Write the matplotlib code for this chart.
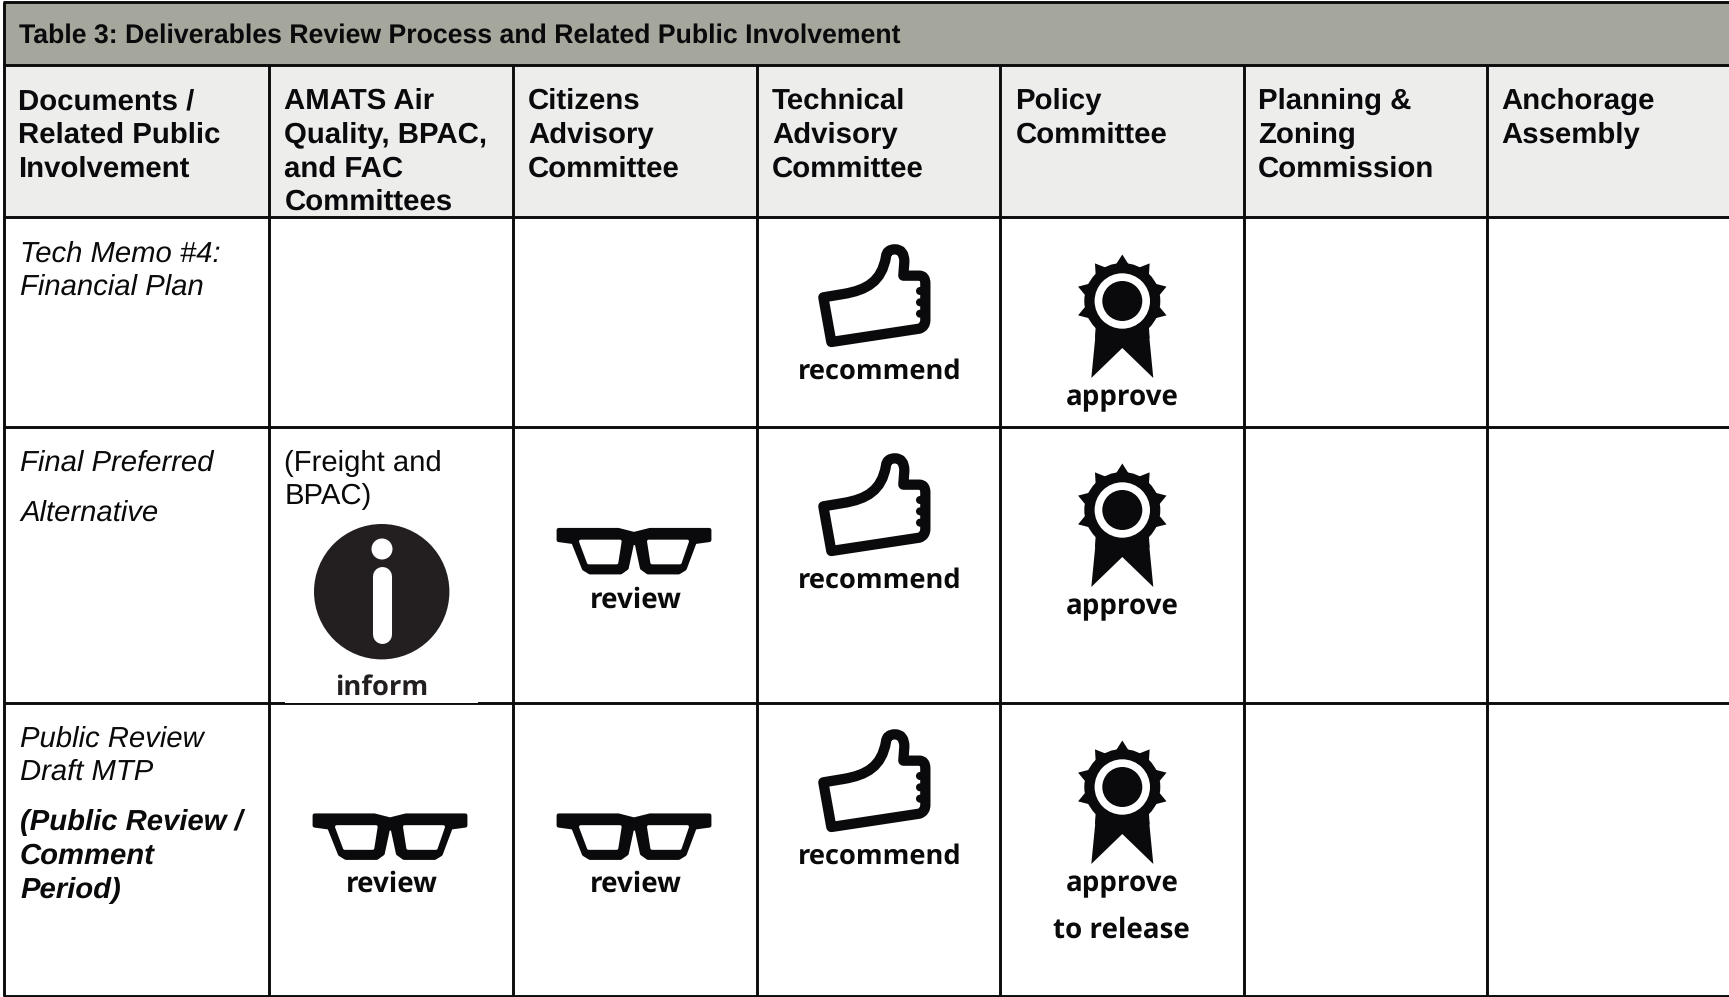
import matplotlib
matplotlib.use('Agg')
import matplotlib.pyplot as plt
import numpy as np
from matplotlib.patches import Rectangle, Circle, Polygon, PathPatch
from matplotlib.path import Path

plt.rcParams['font.family'] = ['Liberation Sans', 'DejaVu Sans']
plt.rcParams['text.hinting'] = 'no_hinting'

title = 'Table 3: Deliverables Review Process and Related Public Involvement'
headers = [
    ['Documents /', 'Related Public', 'Involvement'],
    ['AMATS Air', 'Quality, BPAC,', 'and FAC', 'Committees'],
    ['Citizens', 'Advisory', 'Committee'],
    ['Technical', 'Advisory', 'Committee'],
    ['Policy', 'Committee'],
    ['Planning &', 'Zoning', 'Commission'],
    ['Anchorage', 'Assembly'],
]

col_edges = [4, 269, 513.5, 757, 1000, 1244, 1487]
col_text_x = [18.5, 284.5, 528, 772, 1015.5, 1258, 1501]
row_edges = [2, 65, 217, 427, 703, 996]

header_baselines = [109, 143, 176.5, 210]
recommend_offset = [0, 209, 485]
approve_offset = [0, 209, 486]
# glasses: centre x, top y and label baseline of each one
review_pos = [(634.5, 528, 608), (390.5, 813.5, 891.5), (634.5, 813.5, 891.5)]

body_lines = [
    (20, 262, 'Tech Memo #4:', 'italic', 'normal'),
    (20, 294.5, 'Financial Plan', 'italic', 'normal'),
    (20, 470.5, 'Final Preferred', 'italic', 'normal'),
    (20, 520.5, 'Alternative', 'italic', 'normal'),
    (284.5, 470.5, '(Freight and', 'normal', 'normal'),
    (284.5, 504, 'BPAC)', 'normal', 'normal'),
    (20, 746.5, 'Public Review', 'italic', 'normal'),
    (20, 779.5, 'Draft MTP', 'italic', 'normal'),
    (20, 829.5, '(Public Review /', 'italic', 'bold'),
    (20, 863.5, 'Comment', 'italic', 'bold'),
    (20, 898, 'Period)', 'italic', 'bold'),
]

BLACK = '#0a0a0c'
LINE = '#0c0c0c'

fig = plt.figure(figsize=(17.29, 9.97), dpi=100)
ax = fig.add_axes([0, 0, 1, 1])
ax.set_xlim(0, 1729)
ax.set_ylim(997, 0)
ax.axis('off')


def label(x, y, s, size=20.0, color=BLACK):
    ax.text(x, y, s, ha='center', va='baseline', fontsize=size, color=color,
            family=['Open Sans', 'DejaVu Sans'], fontweight='bold', zorder=6)


def thumb(dy):
    # outline, 3x crop coordinates
    verts = [(214, 366), (190, 232), (250, 222),
             (320, 210), (365, 185), (378, 110),
             (380, 88), (405, 88),
             (433, 88), (433, 125),
             (430, 167),
             (478, 167), (496, 167), (496, 190),
             (496, 300), (496, 320), (478, 326),
             (214, 366), (214, 366)]
    codes = [Path.MOVETO, Path.LINETO, Path.LINETO,
             Path.CURVE4, Path.CURVE4, Path.CURVE4,
             Path.CURVE3, Path.CURVE3,
             Path.CURVE3, Path.CURVE3,
             Path.LINETO,
             Path.LINETO, Path.CURVE3, Path.CURVE3,
             Path.LINETO, Path.CURVE3, Path.CURVE3,
             Path.LINETO, Path.CLOSEPOLY]
    pts = [(760 + x / 3, 220 + y / 3 + dy) for x, y in verts]
    ax.add_patch(PathPatch(Path(pts, codes), fc='white', ec=BLACK, lw=7.4,
                           joinstyle='round', zorder=4))
    for ky in (213, 247, 281):
        ax.add_patch(Circle((760 + 480 / 3, 220 + ky / 3 + dy), 4.0, fc=BLACK, ec='none', zorder=4))
    label(880, 379 + dy, 'recommend', size=19.6)


def rosette(dy):
    cx, cy = 1122.3, 301 + dy
    ang = np.deg2rad(np.arange(10) * 36 + 18)
    for a in ang:
        tip = (cx + 46.5 * np.cos(a), cy - 46.5 * np.sin(a))
        b1 = (cx + 36 * np.cos(a + 0.2), cy - 36 * np.sin(a + 0.2))
        b2 = (cx + 36 * np.cos(a - 0.2), cy - 36 * np.sin(a - 0.2))
        ax.add_patch(Polygon([tip, b1, b2], fc=BLACK, ec='none', zorder=4))
    ax.add_patch(Circle((cx, cy), 38, fc=BLACK, ec='none', zorder=4))
    ax.add_patch(Circle((cx, cy), 27.7, fc='white', ec='none', zorder=4))
    ax.add_patch(Circle((cx, cy), 20, fc=BLACK, ec='none', zorder=4))
    ribbon = [(-26, 26), (-31, 77), (0, 47), (31, 77), (26, 26)]
    ax.add_patch(Polygon([(cx + x, cy + y) for x, y in ribbon], fc=BLACK, ec='none', zorder=3))
    label(1122.5, 405.5 + dy, 'approve')


def glasses(cx, top, base):
    cx = cx - 0.5
    outer = [(-226, 6), (-47, 6), (0, 18), (48, 6), (226, 6), (226, 36), (182, 42),
             (152, 122), (134, 133), (42, 133), (24, 120), (8, 45), (-6, 45), (-22, 120),
             (-40, 133), (-132, 133), (-150, 122), (-182, 42), (-226, 36)]
    lens_l = [(-160, 40), (-42, 40), (-52, 104), (-136, 104)]
    lens_r = [(44, 40), (160, 40), (138, 104), (54, 104)]
    for pts, col, z, w in [(outer, BLACK, 4, 3.0), (lens_l, 'white', 4.1, 2.4), (lens_r, 'white', 4.1, 2.4)]:
        ax.add_patch(Polygon([(cx + x / 3, top + y / 3) for x, y in pts], fc=col, ec=col, lw=w,
                             joinstyle='round', zorder=z))
    label(cx + 1.5, base, 'review')


# backgrounds
ax.add_patch(Rectangle((col_edges[0], row_edges[0]), 1729, row_edges[1] - row_edges[0], fc='#a5a79c', ec='none'))
ax.add_patch(Rectangle((col_edges[0], row_edges[1]), 1729, row_edges[2] - row_edges[1], fc='#ededec', ec='none'))

# grid lines
lw = 2.1
for y in row_edges:
    ax.plot([col_edges[0] - 1, 1729], [y, y], color=LINE, lw=lw, solid_capstyle='butt', zorder=1)
ax.plot([col_edges[0]] * 2, [row_edges[0], row_edges[-1]], color=LINE, lw=lw, solid_capstyle='butt', zorder=1)
for x in col_edges[1:]:
    ax.plot([x, x], [row_edges[1], row_edges[-1]], color=LINE, lw=lw, solid_capstyle='butt', zorder=1)

# texts
ax.text(col_text_x[0] + 1, 42.5, title, fontsize=19.2, fontweight='bold', va='baseline', color=BLACK)
for x, lines in zip(col_text_x, headers):
    for y, s in zip(header_baselines, lines):
        ax.text(x, y, s, fontsize=21.2, fontweight='bold', va='baseline', color=BLACK)
for x, y, s, style, weight in body_lines:
    ax.text(x, y, s, fontsize=21.1, style=style, fontweight=weight, va='baseline', color=BLACK)

# icons
for dy in recommend_offset:
    thumb(dy)
for dy in approve_offset:
    rosette(dy)
for cx, top, base in review_pos:
    glasses(cx, top, base)

label(1121.5, 937.5, 'to release')

# inform icon sits on a white patch that clips the row line
ax.add_patch(Rectangle((285, 522), 193, 180.5, fc='white', ec='none', zorder=2))
ax.add_patch(Circle((381.7, 591.7), 67.7, fc='#231f20', ec='none', zorder=4))
ax.plot([382, 382], [576, 634], color='white', lw=13.7, solid_capstyle='round', zorder=5)
ax.add_patch(Circle((382, 549), 10.5, fc='white', ec='none', zorder=5))
label(381.7, 694.5, 'inform', color='#231f20', size=19.7)

fig.savefig('out.png', dpi=100)
